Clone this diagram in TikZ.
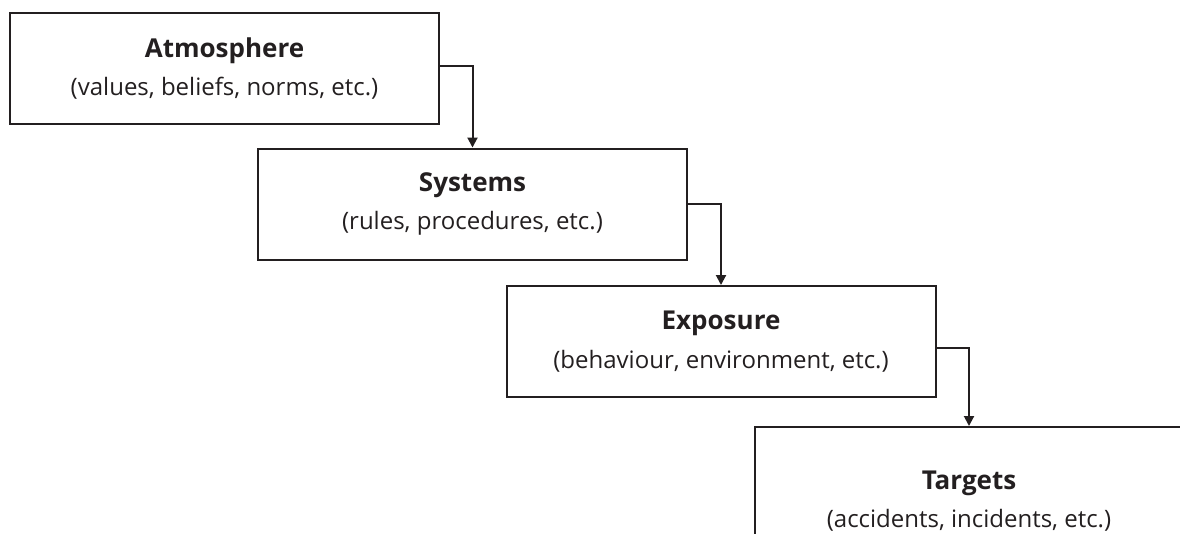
\documentclass[tikz,border=0pt]{standalone}
\usepackage{fontspec}
\setmainfont{Open Sans}
\usetikzlibrary{arrows.meta}

\definecolor{inkc}{HTML}{231F20}
\newcommand{\stagehead}[1]{{\fontsize{19.5}{29}\selectfont\bfseries #1}}

\tikzset{
  stage/.style={draw=inkc,line width=1.5pt,minimum width=321.75pt,minimum height=83.25pt,
    align=center,inner sep=0pt,text=inkc,font=\fontsize{18}{29}\selectfont},
  link/.style={draw=inkc,line width=1.5pt,-{Triangle[width=7.5pt,length=7.5pt]}}
}

\begin{document}
\begin{tikzpicture}[x=0.75pt,y=-0.75pt]
\clip (0,0) rectangle (1180,533);

\node[stage] (atm) at (224.5,68.5) {\stagehead{Atmosphere}\\(values, beliefs, norms, etc.)};
\node[stage] (sys) at (472.5,204) {\stagehead{Systems}\\(rules, procedures, etc.)};
\node[stage] (exp) at (721,341.5) {\stagehead{Exposure}\\(behaviour, environment, etc.)};
\node[stage,minimum height=111pt] (tgt) at (969,501) {\stagehead{Targets}\\(accidents, incidents, etc.)};

\draw[link] ([yshift=1.9pt]atm.east) -| (sys.north);
\draw[link] (sys.east) -| (exp.north);
\draw[link] ([yshift=-4.9pt]exp.east) -| (tgt.north);

\end{tikzpicture}
\end{document}
